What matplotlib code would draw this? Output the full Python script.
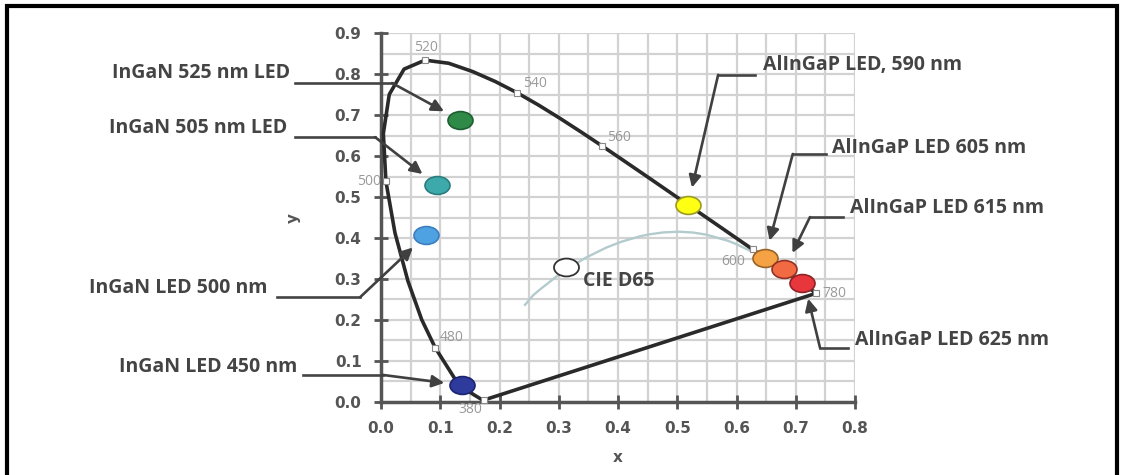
import matplotlib
matplotlib.use("Agg")
import matplotlib.pyplot as plt
from matplotlib.patches import Rectangle
from matplotlib.path import Path
from matplotlib.transforms import Affine2D

plt.rcParams['font.family'] = ['Open Sans', 'DejaVu Sans']

# CIE 1931 spectral locus (x, y)
locus_x = [0.1741, 0.1738, 0.1733, 0.1726, 0.1714, 0.1689, 0.1644, 0.1566, 0.1440, 0.1241,
           0.0913, 0.0687, 0.0454, 0.0235, 0.0082, 0.0039, 0.0139, 0.0389, 0.0743, 0.1142,
           0.1547, 0.1929, 0.2296, 0.2658, 0.3016, 0.3373, 0.3731, 0.4087, 0.4441, 0.4788,
           0.5125, 0.5448, 0.5752, 0.6029, 0.6270, 0.6482, 0.6658, 0.6801, 0.6915, 0.7006,
           0.7079, 0.7140, 0.7190, 0.7260, 0.7300, 0.7334, 0.7347]
locus_y = [0.0050, 0.0049, 0.0048, 0.0048, 0.0051, 0.0069, 0.0109, 0.0177, 0.0297, 0.0578,
           0.1327, 0.2007, 0.2950, 0.4127, 0.5384, 0.6548, 0.7502, 0.8120, 0.8338, 0.8262,
           0.8059, 0.7816, 0.7543, 0.7243, 0.6923, 0.6589, 0.6245, 0.5896, 0.5547, 0.5202,
           0.4866, 0.4544, 0.4242, 0.3965, 0.3725, 0.3514, 0.3340, 0.3197, 0.3083, 0.2993,
           0.2920, 0.2859, 0.2809, 0.2740, 0.2700, 0.2666, 0.2653]

# labelled wavelengths
wl_names = ['380', '480', '500', '520', '540', '560', '600', '780']
wl_x = [0.1741, 0.0913, 0.0082, 0.0743, 0.2296, 0.3731, 0.6270, 0.7347]
wl_y = [0.0050, 0.1327, 0.5384, 0.8338, 0.7543, 0.6245, 0.3725, 0.2653]

# Planckian locus
planck_x = [0.243, 0.2568, 0.2714, 0.2807, 0.2951, 0.3135, 0.3451, 0.3805, 0.4053, 0.4369,
            0.4527, 0.4770, 0.5033, 0.5267, 0.5491, 0.5857, 0.5985, 0.6249]
planck_y = [0.237, 0.2604, 0.2781, 0.2884, 0.3050, 0.3236, 0.3516, 0.3768, 0.3907, 0.4041,
            0.4089, 0.4137, 0.4153, 0.4133, 0.4082, 0.3931, 0.3858, 0.3674]

# LEDs
led_names = ['InGaN 525 nm LED', 'InGaN 505 nm LED', 'InGaN LED 500 nm', 'InGaN LED 450 nm',
             'AlInGaP LED, 590 nm', 'AlInGaP LED 605 nm', 'AlInGaP LED 615 nm', 'AlInGaP LED 625 nm']
led_x = [0.133, 0.094, 0.076, 0.137, 0.518, 0.648, 0.681, 0.710]
led_y = [0.688, 0.529, 0.407, 0.041, 0.480, 0.351, 0.324, 0.291]
led_fill = ['#2f8a47', '#3ea9aa', '#4ea2e2', '#2f3b9c', '#ffff14', '#f5a244', '#f26a42', '#e8373c']
led_edge = ['#1e5f31', '#2a7d7e', '#3b7fc0', '#1b2470', '#9c9a20', '#9a6224', '#933224', '#8f2226']

d65_x, d65_y = 0.3127, 0.3290

oval = Path.unit_circle().transformed(Affine2D().scale(1.4, 1.0))

fig = plt.figure(figsize=(11.25, 4.75), dpi=100)
ax = fig.add_axes([0.3387, 0.1537, 0.4213, 0.7768])
ax.set_xlim(0, 0.8)
ax.set_ylim(0, 0.9)

grid = [i * 0.05 for i in range(1, 19)]
for g in grid:
    if g <= 0.8:
        ax.plot([g, g], [0, 0.9], color='#d2d2d2', lw=1.6, zorder=0)
    ax.plot([0, 0.8], [g, g], color='#d2d2d2', lw=1.6, zorder=0)

for s in ['top', 'right']:
    ax.spines[s].set_visible(False)
for s in ['left', 'bottom']:
    ax.spines[s].set_color('#555555')
    ax.spines[s].set_linewidth(2.5)
ax.set_xticks([i / 10 for i in range(9)])
ax.set_yticks([i / 10 for i in range(10)])
ax.set_xticklabels(['%.1f' % (i / 10) for i in range(9)])
ax.set_yticklabels(['%.1f' % (i / 10) for i in range(10)])
ax.tick_params(direction='inout', length=10, width=2, color='#555555',
               labelsize=11, labelcolor='#555555', pad=9)
for lab in ax.get_xticklabels() + ax.get_yticklabels():
    lab.set_fontweight('bold')
    lab.set_family('DejaVu Sans')
ax.set_xlabel('x', fontsize=11, fontweight='bold', color='#555555', labelpad=10,
              family='DejaVu Sans')
ax.set_ylabel('y', fontsize=11, fontweight='bold', color='#555555', labelpad=24,
              family='DejaVu Sans')

ax.plot(planck_x, planck_y, color='#b4cbce', lw=1.7, zorder=2)
ax.plot(locus_x + [locus_x[0]], locus_y + [locus_y[0]], color='#2a2a2a', lw=2.6,
        zorder=3, clip_on=False, solid_joinstyle='round')
ax.plot(wl_x, wl_y, 's', ms=4, mfc='white', mec='#888888', mew=0.8, zorder=4, clip_on=False)
wl_off = {'380': (-10, -7), '480': (12, 7), '500': (-12, 0), '520': (1, 9),
          '540': (13, 7), '560': (12, 6), '600': (-14, -9), '780': (13, 0)}
for n, x, y in zip(wl_names, wl_x, wl_y):
    ax.annotate(n, (x, y), xytext=wl_off[n], textcoords='offset points', fontsize=10,
                color='#9a9a9a', ha='center', va='center', annotation_clip=False)

for x, y, f, e in zip(led_x, led_y, led_fill, led_edge):
    ax.plot(x, y, marker=oval, ms=18, mfc=f, mec=e, mew=1.2, zorder=6, clip_on=False)
ax.plot(d65_x, d65_y, marker=oval, ms=18, mfc='white', mec='#333333', mew=1.3, zorder=6)
ax.text(d65_x + 0.028, d65_y - 0.033, 'CIE D65', fontsize=14, fontweight='bold',
        color='#444444', va='center')

# label layout: text anchor, line start, elbow
lab_text = [(-0.154, 0.802), (-0.159, 0.668), (-0.192, 0.278), (-0.142, 0.085),
            (0.645, 0.822), (0.761, 0.620), (0.792, 0.473), (0.800, 0.151)]
lab_line = [(-0.145, 0.778), (-0.145, 0.646), (-0.176, 0.256), (-0.132, 0.066),
            (0.631, 0.798), (0.751, 0.605), (0.780, 0.451), (0.788, 0.132)]
lab_bend = [(0.0186, 0.778), (-0.010, 0.646), (-0.035, 0.256), (0.003, 0.066),
            (0.569, 0.798), (0.695, 0.605), (0.724, 0.451), (0.741, 0.132)]

for i, name in enumerate(led_names):
    tx, ty = lab_text[i]
    ha = 'right' if tx < 0 else 'left'
    ax.text(tx, ty, name, fontsize=14, fontweight='bold', color='#444444',
            ha=ha, va='center', clip_on=False)
    lx, ly = lab_line[i]
    bx, by = lab_bend[i]
    ax.plot([lx, bx], [ly, by], color='#444444', lw=1.9, clip_on=False, zorder=5)
    target = (led_x[i], led_y[i])
    shrink = 13
    if i == 7:
        target = (0.721, 0.252)
        shrink = 0
    ax.annotate('', xy=target, xytext=(bx, by),
                arrowprops=dict(arrowstyle='-|>', color='#404040', lw=1.9,
                                shrinkA=0, shrinkB=shrink, mutation_scale=18),
                annotation_clip=False, zorder=5)

fig.patches.append(Rectangle((7 / 1125, -0.05), 1110 / 1125, 1 - 5.5 / 475 + 0.05,
                             transform=fig.transFigure, fill=False, ec='black', lw=3))

fig.savefig('out.png', dpi=100)
